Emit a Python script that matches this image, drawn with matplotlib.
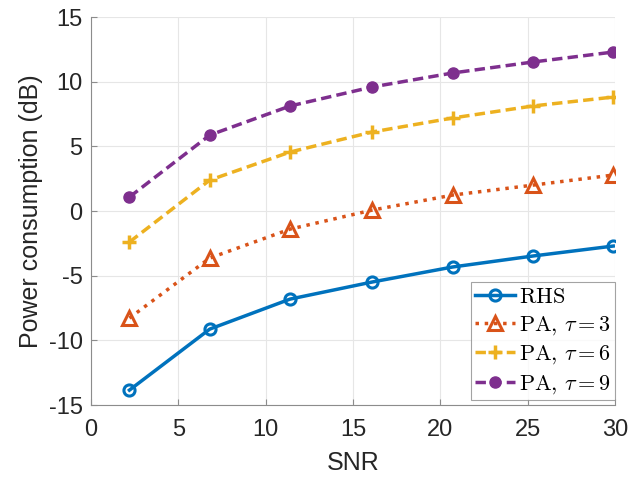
import matplotlib
matplotlib.use('Agg')
import matplotlib.pyplot as plt

plt.rcParams['font.family'] = ['Liberation Sans', 'DejaVu Sans']
plt.rcParams['mathtext.fontset'] = 'cm'
plt.rcParams['axes.unicode_minus'] = False

# SNR points and power consumption curves (dB)
snr = [2.2, 6.8, 11.4, 16.1, 20.7, 25.3, 29.9]
rhs = [-13.85, -9.13, -6.81, -5.49, -4.33, -3.48, -2.71]
pa_tau3 = [-8.28, -3.64, -1.40, 0.07, 1.23, 2.00, 2.78]
pa_tau6 = [-2.40, 2.39, 4.56, 6.11, 7.19, 8.12, 8.81]
pa_tau9 = [1.08, 5.87, 8.12, 9.59, 10.67, 11.52, 12.29]

fig = plt.figure(figsize=(6.44, 4.79), dpi=100)
ax = fig.add_axes([91/644, 1 - 405/479, 524/644, 388/479])

ax.plot(snr, rhs, '-', color='#0072BD', lw=2.5, marker='o', ms=8, mfc='none', mew=2.2,
        label=r'$\mathrm{RHS}$')
ax.plot(snr, pa_tau3, ':', color='#D95319', lw=2.5, marker='^', ms=10, mfc='none', mew=2.2,
        label=r'$\mathrm{PA},\, \tau=3$')
ax.plot(snr, pa_tau6, color='#EDB120', lw=2.5, ls=(0, (3, 1.5)), marker='+', ms=10, mew=2.5,
        label=r'$\mathrm{PA},\, \tau=6$')
ax.plot(snr, pa_tau9, color='#7E2F8E', lw=2.5, ls=(0, (3, 1.5)), marker='o', ms=8,
        label=r'$\mathrm{PA},\, \tau=9$')

ax.set_xlim(0, 30)
ax.set_ylim(-15, 15)
ax.set_xticks(range(0, 31, 5))
ax.set_yticks(range(-15, 16, 5))
ax.grid(True, color='#e6e6e6', lw=0.8)
ax.set_axisbelow(True)
for s in ['top', 'right']:
    ax.spines[s].set_visible(False)
for s in ['left', 'bottom']:
    ax.spines[s].set_color('#8c8c8c')
ax.tick_params(direction='in', colors='#8c8c8c', labelcolor='#262626', labelsize=17,
               length=4, pad=6)
ax.tick_params(axis='x', pad=10)

ax.set_xlabel('SNR', fontsize=18, color='#262626', labelpad=7)
ax.set_ylabel('Power consumption (dB)', fontsize=18, color='#262626', labelpad=4)

leg = ax.legend(loc='lower right', fontsize=16, frameon=True, fancybox=False,
                borderpad=0.2, handlelength=1.8, handletextpad=0.15, labelspacing=0.3,
                borderaxespad=0.0, bbox_to_anchor=(1.0, 0.012))
leg.get_frame().set_edgecolor('#8c8c8c')
leg.get_frame().set_linewidth(0.8)

fig.savefig('out.png', dpi=100)
